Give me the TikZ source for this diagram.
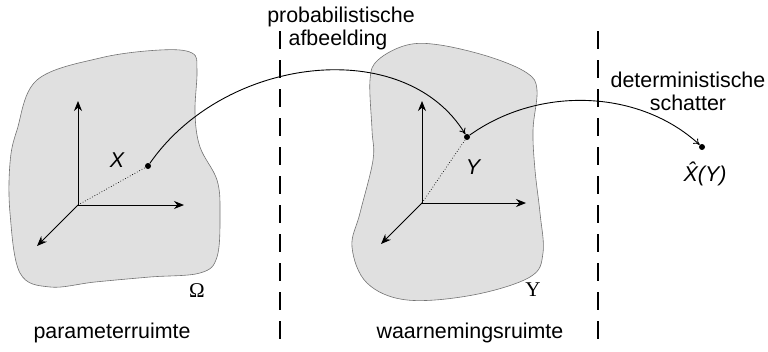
\documentclass[tikz,border=0pt]{standalone}
\usepackage{fontspec}
\setmainfont{Liberation Sans}
\newfontfamily\serifgr{Liberation Serif}
\usetikzlibrary{arrows.meta}
\tikzset{
  blob/.style={draw=black!55, line width=0.6pt, fill=black!12},
  axis/.style={-{Stealth[length=10pt,width=8pt]}, line width=1pt},
  mapping/.style={-{To[length=6pt,width=7pt]}, line width=0.9pt},
  sep/.style={dash pattern=on 18pt off 11pt, line width=2.4pt},
  lbl/.style={font=\fontsize{21.4}{23}\selectfont, inner sep=0pt},
  var/.style={font=\itshape\fontsize{21.4}{23}\selectfont, inner sep=0pt},
  pt/.style={circle, fill=black, inner sep=0pt, minimum size=6pt},
  gr/.style={font=\serifgr\fontsize{21}{23}\selectfont, inner sep=0pt}
}
\begin{document}
\begin{tikzpicture}[x=1pt,y=-1pt]
\useasboundingbox (0,0) rectangle (768,351);
% left blob
\draw[blob] plot[smooth cycle, tension=0.6] coordinates {
 (37,80) (100,58) (160,50) (192,53) (197,70) (195,113) (200,147) (217,180)
 (220,213) (217,257) (200,273) (150,277) (95,282) (50,287) (20,273) (10,213)
 (10,163) (17,130)};
% middle blob
\draw[blob] plot[smooth cycle, tension=0.6] coordinates {
 (378,60) (407,45) (440,45) (490,57) (527,73) (537,90) (533,130) (535,170)
 (540,213) (543,253) (530,277) (473,295) (407,300) (367,283) (352,247)
 (360,213) (373,160) (372,130) (370,80)};
% separators
\coordinate (s1t) at (280,31); \coordinate (s1b) at (280,340);
\coordinate (s2t) at (598,31); \coordinate (s2b) at (598,340);
\draw[sep] (s1t) -- (s1b);
\draw[sep] (s2t) -- (s2b);
% left axes
\coordinate (o1) at (78,205);
\coordinate (u1) at (78,101);
\coordinate (r1) at (184,205);
\coordinate (d1) at (37,246);
\draw[axis] (o1) -- (u1);
\draw[axis] (o1) -- (r1);
\draw[axis] (o1) -- (d1);
\node[pt] (X) at (148,166) {};
\draw[dotted, line width=0.7pt] (o1) -- (X);
\node[var] (Xl) at (117,160) {X};
% middle axes
\coordinate (o2) at (422,203);
\coordinate (u2) at (422,101);
\coordinate (r2) at (526,203);
\coordinate (d2) at (381,244);
\draw[axis] (o2) -- (u2);
\draw[axis] (o2) -- (r2);
\draw[axis] (o2) -- (d2);
\node[pt] (Y) at (467,137) {};
\draw[dotted, line width=0.7pt] (o2) -- (Y);
\node[var] (Yl) at (473,167) {Y};
% estimate point
\node[pt] (Xh) at (702,147) {};
\node[var] (Xhl) at (705,174) {\^{X}(Y)};
% curves
\draw[mapping] (X) .. controls (225,55) and (405,35) .. (Y);
\draw[mapping] (Y) .. controls (540,85) and (640,90) .. (Xh);
% labels
\node[lbl] (p1) at (341,17) {probabilistische};
\node[lbl] (p2) at (338,40) {afbeelding};
\node[lbl] (d1l) at (688,80) {deterministische};
\node[lbl] (d2l) at (688,103) {schatter};
\node[lbl] (pr) at (112,333) {parameterruimte};
\node[lbl] (wr) at (470,333) {waarnemingsruimte};
\node[gr] (om) at (197,291) {Ω};
\node[gr] (up) at (533,290) {Υ};
\end{tikzpicture}
\end{document}
